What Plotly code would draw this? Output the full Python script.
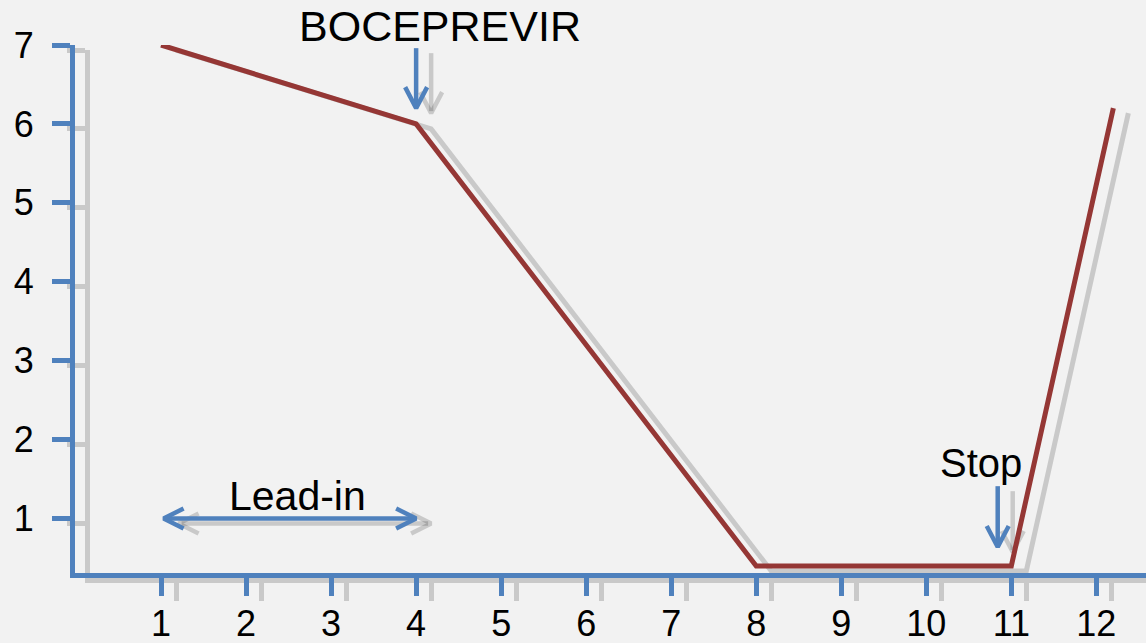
import plotly.graph_objects as go

# ---- data -------------------------------------------------------------
weeks = [1, 4, 8, 11, 12.2]
viral_load = [7, 6, 0.4, 0.4, 6.2]

x_ticks = list(range(1, 13))
x_tick_labels = [str(v) for v in x_ticks]
y_ticks = list(range(1, 8))
y_tick_labels = [str(v) for v in y_ticks]

# annotation arrows: endpoints in data units
boceprevir_arrow = {"x": 4.0, "y_from": 6.96, "y_to": 6.2}
stop_arrow = {"x": 10.84, "y_from": 1.41, "y_to": 0.64}
lead_in_arrow = {"y": 1.0, "x_from": 1.03, "x_to": 4.0}

# ---- layout constants -------------------------------------------------
W, H = 1146, 643
M_L, M_R, M_T, M_B = 75, 0, 45, 65
PLOT_W = W - M_L - M_R
PLOT_H = H - M_T - M_B
SH_DX, SH_DY = 15, 5           # drop-shadow offset (px)

X_RANGE = [-0.012, 12.584]
Y_RANGE = [0.31, 7.0]
PX_X = PLOT_W / (X_RANGE[1] - X_RANGE[0])
PX_Y = (PLOT_H - SH_DY) / (Y_RANGE[1] - Y_RANGE[0])

BG = "#f2f2f2"
BLUE = "#4f81bd"
RED = "#953735"
SHADOW = "rgba(0,0,0,0.17)"
FONT = "Liberation Sans, Arial, sans-serif"


def arrow_path(kind, a):
    """Polyline (with None breaks) for a shaft plus open V heads."""
    xs, ys = [], []
    if kind == "down":
        hl, hw = 21, 11
        x, y0, y1 = a["x"], a["y_from"], a["y_to"]
        xs += [x, x, None, x - hw / PX_X, x, x + hw / PX_X]
        ys += [y0, y1 + 2 / PX_Y, None, y1 + hl / PX_Y, y1, y1 + hl / PX_Y]
    else:  # double-headed horizontal
        hl, hw = 20, 10
        y, x0, x1 = a["y"], a["x_from"], a["x_to"]
        xs += [x0 + 3 / PX_X, x1 - 3 / PX_X, None,
               x0 + hl / PX_X, x0, x0 + hl / PX_X, None,
               x1 - hl / PX_X, x1, x1 - hl / PX_X]
        ys += [y, y, None,
               y + hw / PX_Y, y, y - hw / PX_Y, None,
               y + hw / PX_Y, y, y - hw / PX_Y]
    return xs, ys


fig = go.Figure()

# shadow subplot first (x/y), main subplot drawn over it (x2/y2)
for (xa, ya), color in ((("x", "y"), SHADOW), (("x2", "y2"), None)):
    line_col = color or RED
    arrow_col = color or BLUE
    fig.add_trace(go.Scatter(
        x=weeks, y=viral_load, mode="lines", xaxis=xa, yaxis=ya, cliponaxis=False,
        line=dict(color=line_col, width=5), hoverinfo="skip", showlegend=False))
    for kind, a in (("down", boceprevir_arrow), ("down", stop_arrow), ("h", lead_in_arrow)):
        ax_, ay_ = arrow_path(kind, a)
        fig.add_trace(go.Scatter(
            x=ax_, y=ay_, mode="lines", xaxis=xa, yaxis=ya, cliponaxis=False,
            line=dict(color=arrow_col, width=4.5), hoverinfo="skip", showlegend=False))

axis_common = dict(showgrid=False, zeroline=False, ticks="outside", automargin=False,
                   ticklen=18, tickwidth=5, linewidth=5, fixedrange=True)

shadow_x_span = (PLOT_W - SH_DX) / PX_X
fig.update_layout(
    width=W, height=H,
    margin=dict(l=M_L, r=M_R, t=M_T, b=M_B, pad=0, autoexpand=False),
    paper_bgcolor=BG, plot_bgcolor="rgba(0,0,0,0)",
    showlegend=False,
    font=dict(family=FONT, color="black"),
    xaxis=dict(axis_common, domain=[SH_DX / PLOT_W, 1],
               range=[X_RANGE[0], X_RANGE[0] + shadow_x_span],
               tickvals=x_ticks, showticklabels=False,
               showline=True, linecolor=SHADOW, tickcolor=SHADOW, anchor="y"),
    yaxis=dict(axis_common, domain=[0, 1 - SH_DY / PLOT_H], range=Y_RANGE,
               tickvals=y_ticks, showticklabels=False,
               showline=True, linecolor=SHADOW, tickcolor=SHADOW, anchor="x"),
    xaxis2=dict(axis_common, domain=[0, 1], range=X_RANGE,
                tickvals=x_ticks, ticktext=x_tick_labels, ticklabelstandoff=-3,
                tickfont=dict(size=36, family=FONT, color="black"),
                showline=True, linecolor=BLUE, tickcolor=BLUE, anchor="y2"),
    yaxis2=dict(axis_common, domain=[SH_DY / PLOT_H, 1], range=Y_RANGE,
                tickvals=y_ticks, ticktext=y_tick_labels, ticklabelstandoff=11,
                tickfont=dict(size=36, family=FONT, color="black"),
                showline=True, linecolor=BLUE, tickcolor=BLUE, anchor="x2"),
)

labels = [
    ("Stop", 10.64, 1.70, 40),
    ("Lead-in", 2.61, 1.28, 41),
]
for text, lx, ly, size in labels:
    fig.add_annotation(text=text, x=lx, y=ly, xref="x2", yref="y2",
                       showarrow=False, xanchor="center", yanchor="middle",
                       font=dict(size=size, family=FONT, color="black"))

# label above the treatment-start arrow, just over the top of the plot
fig.add_annotation(text="BOCEPREVIR", x=4.28, y=1, xref="x2", yref="paper",
                   yshift=19, showarrow=False, xanchor="center", yanchor="middle",
                   font=dict(size=43, family=FONT, color="black"))

fig.write_html("out.html", config={"displayModeBar": False})
